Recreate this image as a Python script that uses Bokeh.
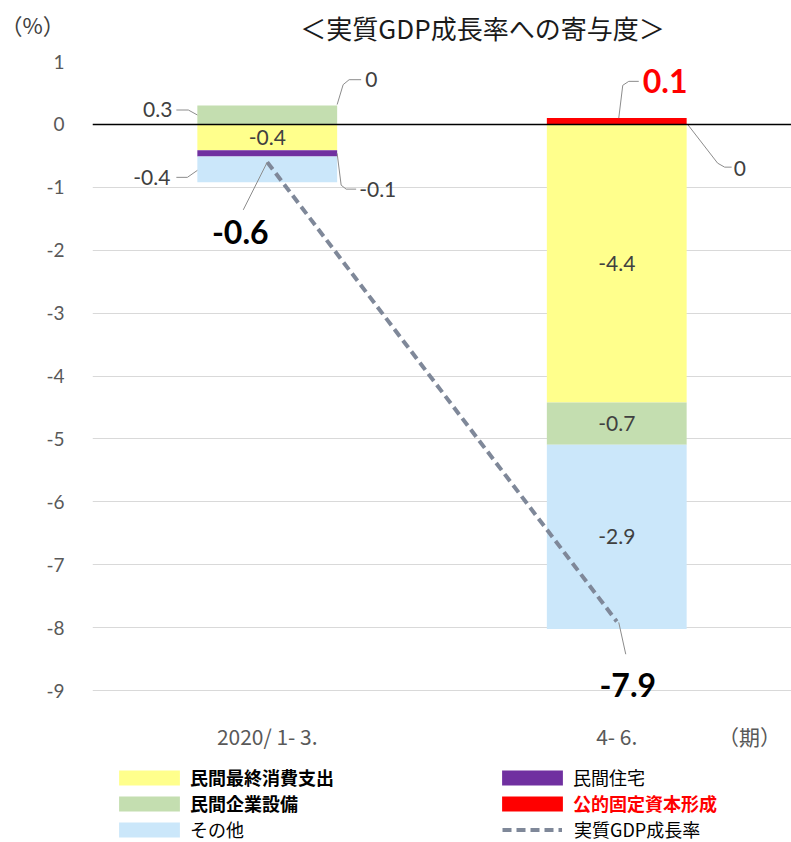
from bokeh.plotting import figure
from bokeh.layouts import column
from bokeh.models import Range1d, FixedTicker, Span, Label, Legend, LegendItem, ColumnDataSource
from bokeh.core.properties import value
from bokeh.embed import file_html
from bokeh.resources import INLINE

# ---------------- data ----------------
periods = ["2020/ 1- 3.", "4- 6."]
consumption = [-0.41, -4.42]   # 民間最終消費支出
housing = [-0.10, 0.0]         # 民間住宅
business = [0.30, -0.67]       # 民間企業設備
public = [0.0, 0.10]           # 公的固定資本形成
other = [-0.41, -2.93]         # その他
gdp = [-0.6, -7.9]             # 実質GDP成長率
y_ticks = list(range(-9, 2))

series_names = ["民間最終消費支出", "民間住宅", "民間企業設備", "公的固定資本形成", "その他"]
gdp_name = "実質GDP成長率"
series = [consumption, housing, business, public, other]
colors = ["#FFFF8C", "#7030A0", "#C4DEB0", "#FF0000", "#CBE7FA"]
gdp_color = "#7F8899"
period_unit = "（期）"

# ---------------- layout constants ----------------
W = 791
HEAD_H = 49
TOP_PAD = 12
FL, FR = 92, 791
X0, X1 = 0.0, 2.0
Y0, Y1 = -9.3, 1
PXX = (FR - FL) / (X1 - X0)
PXY = 63.3
FRAME_H = round((Y1 - Y0) * PXY)
MAIN_H = TOP_PAD + FRAME_H + 40
LEG_H = 842 - HEAD_H - MAIN_H
BAR_W = 0.4

NUM_FONT = "Lato"
JP_FONT = "Noto Sans CJK JP"

# ---------------- header ----------------
head = figure(width=W, height=HEAD_H, x_range=Range1d(0, W), y_range=Range1d(0, HEAD_H),
              output_backend="svg", toolbar_location=None, min_border=0,
              x_axis_location=None, y_axis_location=None, frame_align=False)
head.grid.visible = False
head.outline_line_color = None
head.add_layout(Label(x=482, y=HEAD_H - 27, text="＜実質GDP成長率への寄与度＞",
                      text_font=JP_FONT, text_font_size="26px", text_color="#1a1a1a",
                      text_align="center", text_baseline="middle"))
head.add_layout(Label(x=0, y=HEAD_H - 23, text="（%）",
                      text_font=JP_FONT, text_font_size="22px", text_color="#404040",
                      text_align="left", text_baseline="middle"))

# ---------------- main chart ----------------
p = figure(width=W, height=MAIN_H, x_range=Range1d(X0, X1), y_range=Range1d(Y0, Y1),
           output_backend="svg", toolbar_location=None, frame_align=False,
           min_border_left=FL, min_border_right=W - FR, min_border_top=TOP_PAD,
           min_border_bottom=MAIN_H - FRAME_H - TOP_PAD)
p.outline_line_color = None

xs = [i + 0.5 for i in range(len(periods))]

pos_base = [0.0] * len(periods)
neg_base = [0.0] * len(periods)
bottoms, tops = [], []
for s in series:
    b_list, t_list = [], []
    for i, v in enumerate(s):
        if v >= 0:
            b = pos_base[i]
            t = b + v
            pos_base[i] = t
        else:
            t = neg_base[i]
            b = t + v
            neg_base[i] = b
        b_list.append(b)
        t_list.append(t)
    bottoms.append(b_list)
    tops.append(t_list)

for k, s in enumerate(series):
    p.vbar(x=xs, bottom=bottoms[k], top=tops[k], width=BAR_W,
           fill_color=colors[k], line_color=None)

p.add_layout(Span(location=0, dimension="width", line_color="black", line_width=1.5))
p.line(xs, gdp, line_color=gdp_color, line_width=4, line_dash="9 5")

p.yaxis.ticker = FixedTicker(ticks=y_ticks)
p.yaxis.major_label_overrides = {t: str(t) for t in y_ticks}
p.ygrid.ticker = FixedTicker(ticks=y_ticks)
p.ygrid.grid_line_color = "#D9D9D9"
p.ygrid.grid_line_width = 1
p.xgrid.visible = False
p.yaxis.axis_line_color = None
p.yaxis.major_tick_line_color = None
p.yaxis.minor_tick_line_color = None
p.yaxis.major_label_text_font = NUM_FONT
p.yaxis.major_label_text_font_size = "19px"
p.yaxis.major_label_text_color = "#595959"
p.yaxis.major_label_standoff = 22

unit_x = X0 + (749 - FL) / PXX
p.xaxis.ticker = FixedTicker(ticks=xs + [unit_x])
overrides = {x: lab for x, lab in zip(xs, periods)}
overrides[unit_x] = period_unit
p.xaxis.major_label_overrides = overrides
p.xaxis.axis_line_color = None
p.xaxis.major_tick_line_color = None
p.xaxis.minor_tick_line_color = None
p.xaxis.major_label_text_font = JP_FONT
p.xaxis.major_label_text_font_size = "21px"
p.xaxis.major_label_text_color = "#595959"
p.xaxis.major_label_standoff = 5


def fmt(v):
    r = round(v, 1)
    return "0" if r == 0 else f"{r:.1f}"


def to_data(ax, ay, dx, dy):
    return ax + dx / PXX, ay - dy / PXY


callouts = {
    (2, 0): ("L", (-25, -5), "right", [(0, 0), (-9, -5), (-21, -5)]),
    (3, 0): ("RT", (28, -26), "left", [(0, -1), (6, -21), (12, -26), (24, -26)]),
    (4, 0): ("L", (-27, 8), "right", [(0, 1), (-10, 8), (-21, 8)]),
    (1, 0): ("R", (22, 36), "left", [(0, 0), (4, 32), (9, 36), (19, 36)]),
    (3, 1): ("T", (26, -37), "left", [(2, 0), (6, -33), (12, -37), (22, -37)]),
    (1, 1): ("R", (47, 44), "left", [(1, 0), (31, 39), (38, 43), (45, 43)]),
}
gdp_callouts = [((-27, 70), [(0, 0), (-24, 48)]), ((11, 64), [(2, 1), (9, 33)])]

inside = dict(x=[], y=[], t=[])
side = dict(x=[], y=[], t=[], dx=[], dy=[], align=[])
red = dict(x=[], y=[], t=[], dx=[], dy=[])
leader_xs, leader_ys = [], []

for k, s in enumerate(series):
    for i, v in enumerate(s):
        mid = (bottoms[k][i] + tops[k][i]) / 2
        key = (k, i)
        if key not in callouts:
            inside["x"].append(xs[i]); inside["y"].append(mid); inside["t"].append(fmt(v))
            continue
        kind, (tdx, tdy), align, path = callouts[key]
        if kind == "L":
            ax, ay = xs[i] - BAR_W / 2, mid
        elif kind == "R":
            ax, ay = xs[i] + BAR_W / 2, mid
        elif kind == "RT":
            ax, ay = xs[i] + BAR_W / 2, tops[k][i]
        else:
            ax, ay = xs[i], tops[k][i]
        pts = [to_data(ax, ay, dx, dy) for dx, dy in path]
        leader_xs.append([q[0] for q in pts]); leader_ys.append([q[1] for q in pts])
        if k == 3 and v != 0:
            red["x"].append(ax); red["y"].append(ay); red["t"].append(fmt(v))
            red["dx"].append(tdx); red["dy"].append(tdy)
        else:
            side["x"].append(ax); side["y"].append(ay); side["t"].append(fmt(v))
            side["dx"].append(tdx); side["dy"].append(tdy); side["align"].append(align)

bold = dict(x=[], y=[], t=[], dx=[], dy=[])
for i, v in enumerate(gdp):
    (tdx, tdy), path = gdp_callouts[i]
    pts = [to_data(xs[i], v, dx, dy) for dx, dy in path]
    leader_xs.append([q[0] for q in pts]); leader_ys.append([q[1] for q in pts])
    bold["x"].append(xs[i]); bold["y"].append(v); bold["t"].append(fmt(v))
    bold["dx"].append(tdx); bold["dy"].append(tdy)

p.multi_line(leader_xs, leader_ys, line_color="#8C8C8C", line_width=1)

p.text(x="x", y="y", text="t", source=ColumnDataSource(inside),
       text_font=value(NUM_FONT), text_font_size="21px", text_color="#404040",
       text_align="center", text_baseline="middle")
p.text(x="x", y="y", text="t", x_offset="dx", y_offset="dy", text_align="align",
       source=ColumnDataSource(side),
       text_font=value(NUM_FONT), text_font_size="21px", text_color="#404040",
       text_baseline="middle")
p.text(x="x", y="y", text="t", x_offset="dx", y_offset="dy",
       source=ColumnDataSource(red),
       text_font=value(NUM_FONT), text_font_size="32px", text_font_style="bold",
       text_color="#FF0000", text_align="left", text_baseline="middle")
p.text(x="x", y="y", text="t", x_offset="dx", y_offset="dy",
       source=ColumnDataSource(bold),
       text_font=value(NUM_FONT), text_font_size="32px", text_font_style="bold",
       text_color="#000000", text_align="center", text_baseline="middle")

# ---------------- legend panel ----------------
leg = figure(width=W, height=LEG_H, x_range=Range1d(0, W), y_range=Range1d(0, LEG_H),
             output_backend="svg", toolbar_location=None, min_border=0,
             x_axis_location=None, y_axis_location=None, frame_align=False)
leg.grid.visible = False
leg.outline_line_color = None

# legend-only renderers (hidden; they only supply the legend swatches)
leg_renderers = []
for k in range(len(series)):
    leg_renderers.append(leg.vbar(x=xs, top=series[k], width=BAR_W, fill_color=colors[k],
                                  line_color=None, visible=False))
leg_gdp = leg.line(x=xs, y=gdp, line_color=gdp_color, line_width=4, line_dash="9 5",
                   visible=False)

PAGE_LEG_TOP = HEAD_H + MAIN_H
ROW_Y = [777, 803, 829]
H_EST = 26
legend_specs = [
    (leg_renderers[0], series_names[0], 111, 0, True, "#000000", 76, 3),
    (leg_renderers[2], series_names[2], 111, 1, True, "#000000", 76, 3),
    (leg_renderers[4], series_names[4], 111, 2, False, "#000000", 76, 3),
    (leg_renderers[1], series_names[1], 494, 0, False, "#000000", 76, 3),
    (leg_renderers[3], series_names[3], 494, 1, True, "#FF0000", 76, 3),
    (leg_gdp, gdp_name, 502, 2, False, "#000000", 60, 12),
]
for r, lab, gx, row, is_bold, col, gw, so in legend_specs:
    row_c = ROW_Y[row] - PAGE_LEG_TOP
    lg = Legend(items=[LegendItem(label=lab, renderers=[r])],
                location=(gx, LEG_H - (row_c + H_EST / 2)),
                glyph_width=gw, glyph_height=19, label_standoff=so,
                padding=0, margin=0, spacing=0,
                border_line_color=None, background_fill_alpha=0,
                label_text_font=JP_FONT, label_text_font_size="18px",
                label_text_color=col,
                label_text_font_style="bold" if is_bold else "normal")
    leg.add_layout(lg)

layout = column(head, p, leg, spacing=0)
open("out.html", "w").write(file_html(layout, INLINE))
